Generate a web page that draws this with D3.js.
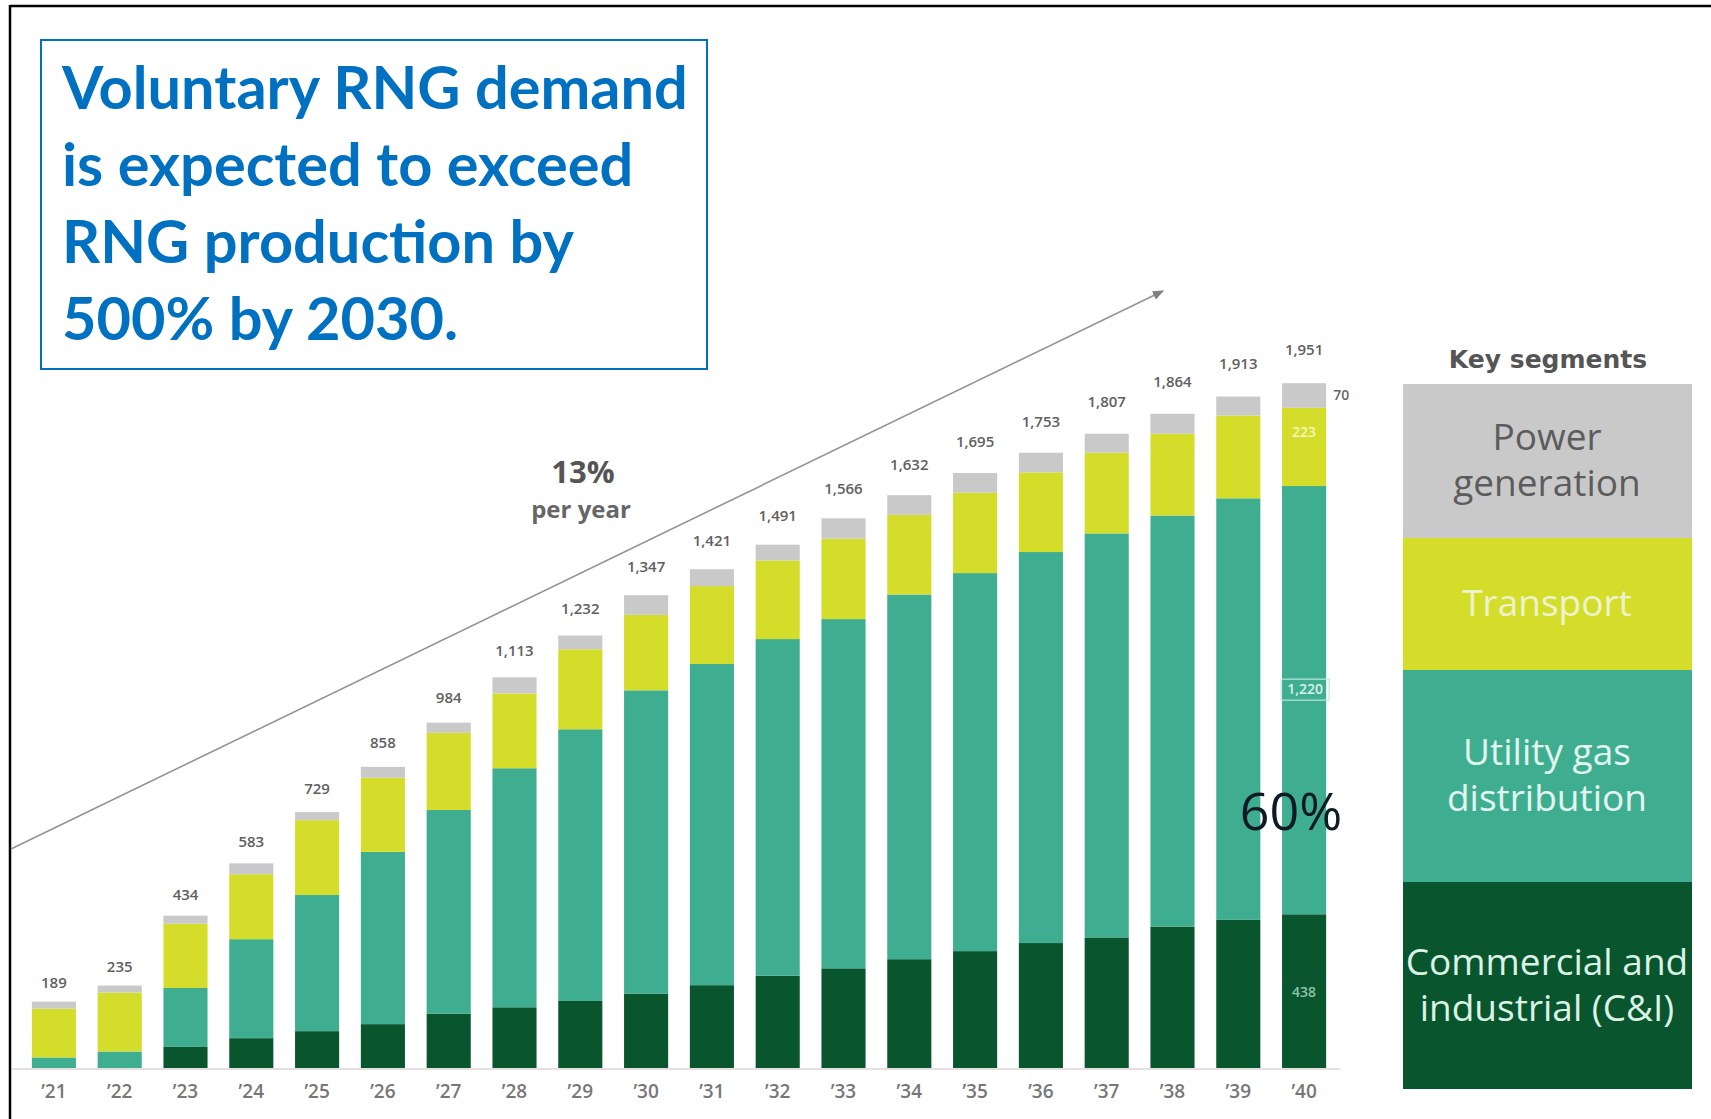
<!DOCTYPE html>
<html>
<head>
<meta charset="utf-8">
<script src="https://cdn.jsdelivr.net/npm/d3@7"></script>
<style>
  body { margin: 0; background: #fff; }
  svg { display: block; }
</style>
</head>
<body>
<div id="chart"></div>
<script>
// Years (x axis)
const years = ["’21", "’22", "’23", "’24", "’25", "’26", "’27", "’28", "’29", "’30",
               "’31", "’32", "’33", "’34", "’35", "’36", "’37", "’38", "’39", "’40"];

// Totals printed above the bars
const totals = [189, 235, 434, 583, 729, 858, 984, 1113, 1232, 1347,
                1421, 1491, 1566, 1632, 1695, 1753, 1807, 1864, 1913, 1951];

// Segments
const commercial = [0, 0, 60, 85, 105, 125, 155, 173, 191, 212,
                    236, 263, 284, 310, 333, 356, 372, 403, 422, 438];
const utility = [30, 47, 168, 282, 388, 491, 580, 681, 774, 864,
                 915, 959, 995, 1039, 1077, 1114, 1151, 1171, 1201, 1220];
const transport = [139, 168, 183, 185, 213, 211, 220, 213, 228, 215,
                   222, 224, 229, 227, 229, 227, 230, 233, 236, 223];
const power = [20, 20, 23, 31, 23, 31, 29, 46, 39, 56,
               48, 45, 58, 56, 56, 56, 54, 57, 54, 70];

const segmentKeys = ["commercial", "utility", "transport", "power"];
const segmentNames = {
    power: ["Power", "generation"],
    transport: ["Transport"],
    utility: ["Utility gas", "distribution"],
    commercial: ["Commercial and", "industrial (C&I)"]
};

const titleLines = ["Voluntary RNG demand", "is expected to exceed",
                    "RNG production by", "500% by 2030."];

// Colours
const color = d3.scaleOrdinal()
    .domain(segmentKeys)
    .range(["#08552e", "#3fae90", "#d5dd2b", "#c9c9c9"]);
const legendTextColor = { power: "#5c5c5c", transport: "#eef3cf", utility: "#e2f6ef", commercial: "#dcf2e6" };

// Table for d3.stack
const table = years.map((yr, i) => ({
    year: yr, total: totals[i],
    commercial: commercial[i], utility: utility[i], transport: transport[i], power: power[i]
}));

const W = 1711, H = 1119;
const svg = d3.select("#chart").append("svg")
    .attr("width", W).attr("height", H);

// Frame lines (top and left)
svg.append("line").attr("x1", 10).attr("x2", W).attr("y1", 6).attr("y2", 6)
    .attr("stroke", "#000").attr("stroke-width", 2.5);
svg.append("line").attr("x1", 10).attr("x2", 10).attr("y1", 5).attr("y2", H)
    .attr("stroke", "#000").attr("stroke-width", 2.5);

// Scales
const baseY = 1068;
const x = d3.scaleBand()
    .domain(years)
    .range([21, 1337])
    .paddingInner(0.33)
    .paddingOuter(0.165);
const y = d3.scaleLinear()
    .domain([0, 2000])
    .range([baseY, baseY - 2000 * 0.351]);

// Baseline
svg.append("line")
    .attr("x1", 12).attr("x2", 1340)
    .attr("y1", baseY + 1).attr("y2", baseY + 1)
    .attr("stroke", "#ddd4d4").attr("stroke-width", 1.5);

// Growth arrow
svg.append("defs").append("marker")
    .attr("id", "arrow")
    .attr("viewBox", "0 0 10 10")
    .attr("refX", 9).attr("refY", 5)
    .attr("markerWidth", 7).attr("markerHeight", 7)
    .attr("orient", "auto")
    .append("path").attr("d", "M0,1 L10,5 L0,9 z").attr("fill", "#808080");

svg.append("line")
    .attr("x1", 11).attr("y1", 849)
    .attr("x2", 1163).attr("y2", 291)
    .attr("stroke", "#939393").attr("stroke-width", 1.6)
    .attr("marker-end", "url(#arrow)");

svg.append("text")
    .attr("x", 583).attr("y", 483)
    .attr("text-anchor", "middle")
    .style("font-family", "'Open Sans', sans-serif")
    .style("font-weight", 700).style("font-size", "31px")
    .attr("fill", "#555")
    .text("13%");
svg.append("text")
    .attr("x", 581).attr("y", 518)
    .attr("text-anchor", "middle")
    .style("font-family", "'Open Sans', sans-serif")
    .style("font-weight", 700).style("font-size", "24px")
    .attr("fill", "#666")
    .text("per year");

// Stacked bars
const stacked = d3.stack().keys(segmentKeys)(table);

svg.append("g")
    .selectAll("g")
    .data(stacked)
    .join("g")
    .attr("fill", d => color(d.key))
    .selectAll("rect")
    .data(d => d)
    .join("rect")
    .attr("x", d => x(d.data.year))
    .attr("width", x.bandwidth())
    .attr("y", d => y(d[1]))
    .attr("height", d => y(d[0]) - y(d[1]));

// Totals above bars
svg.append("g")
    .selectAll("text")
    .data(table)
    .join("text")
    .attr("x", d => x(d.year) + x.bandwidth() / 2)
    .attr("y", d => y(d.total) - (12 + 0.023 * (baseY - y(d.total))))
    .attr("text-anchor", "middle")
    .style("font-family", "'Open Sans', sans-serif")
    .style("font-weight", 600).style("font-size", "15px")
    .attr("fill", "#606060")
    .text(d => d3.format(",")(d.total));

// X axis labels
const xAxis = svg.append("g")
    .attr("transform", `translate(0,${baseY})`)
    .call(d3.axisBottom(x).tickSize(0).tickPadding(17));
xAxis.select(".domain").remove();
xAxis.selectAll("text")
    .style("font-family", "'Open Sans', sans-serif")
    .style("font-weight", 600).style("font-size", "19px")
    .attr("fill", "#777");

// Segment values for the last bar
const last = table[table.length - 1];
const cx = x(last.year) + x.bandwidth() / 2;
const lastLayers = stacked.map(s => s[s.length - 1]);
const valueFont = sel => sel
    .style("font-family", "'Open Sans', sans-serif")
    .style("font-weight", 600).style("font-size", "14px");

svg.append("text")
    .attr("x", x(last.year) + x.bandwidth() + 7)
    .attr("y", (y(lastLayers[3][0]) + y(lastLayers[3][1])) / 2 + 5)
    .attr("fill", "#666").call(valueFont)
    .text(last.power);
svg.append("text")
    .attr("x", cx).attr("y", y(lastLayers[2][1]) + 29)
    .attr("text-anchor", "middle")
    .attr("fill", "#f3f6c0").call(valueFont)
    .text(last.transport);

const utilY = (y(lastLayers[1][0]) + y(lastLayers[1][1])) / 2 - 11;
svg.append("rect")
    .attr("x", cx - 23).attr("y", utilY - 10)
    .attr("width", 48).attr("height", 21)
    .attr("fill", "none").attr("stroke", "#bfe8da").attr("stroke-width", 1.2);
svg.append("text")
    .attr("x", cx + 1).attr("y", utilY + 5)
    .attr("text-anchor", "middle")
    .attr("fill", "#d9f3ea").call(valueFont)
    .text(d3.format(",")(last.utility));
svg.append("text")
    .attr("x", cx).attr("y", (y(lastLayers[0][0]) + y(lastLayers[0][1])) / 2 + 6)
    .attr("text-anchor", "middle")
    .attr("fill", "#8fc4a6").call(valueFont)
    .text(last.commercial);

svg.append("text")
    .attr("x", 1291).attr("y", 830)
    .attr("text-anchor", "middle")
    .style("font-family", "'Open Sans', sans-serif")
    .style("font-weight", 400).style("font-size", "52px")
    .attr("fill", "#0e1a26")
    .text("60%");

// Legend: Key segments
svg.append("text")
    .attr("x", 1548).attr("y", 368)
    .attr("text-anchor", "middle")
    .style("font-family", "'DejaVu Sans', sans-serif")
    .style("font-weight", 700).style("font-size", "25px")
    .attr("fill", "#555")
    .text("Key segments");

const legendOrder = ["power", "transport", "utility", "commercial"];
const legendEdges = [384, 538, 670, 882, 1089];
const legend = svg.append("g");
legendOrder.forEach((k, i) => {
    const y0 = legendEdges[i], y1 = legendEdges[i + 1];
    legend.append("rect")
        .attr("x", 1403).attr("y", y0)
        .attr("width", 289).attr("height", y1 - y0)
        .attr("fill", color(k));
    const lines = segmentNames[k];
    const mid = (y0 + y1) / 2;
    lines.forEach((t, j) => {
        legend.append("text")
            .attr("x", 1547)
            .attr("y", mid + (j - (lines.length - 1) / 2) * 46 + 12)
            .attr("text-anchor", "middle")
            .style("font-family", "'Open Sans', sans-serif")
            .style("font-size", "37px")
            .attr("fill", legendTextColor[k])
            .text(t);
    });
});

// Headline box
svg.append("rect")
    .attr("x", 41).attr("y", 40)
    .attr("width", 666).attr("height", 329)
    .attr("fill", "#fff")
    .attr("stroke", "#0070c0").attr("stroke-width", 2);

const headline = svg.append("g")
    .style("font-family", "Lato, sans-serif")
    .style("font-weight", 700).style("font-size", "59.5px")
    .attr("fill", "#0070c0");
titleLines.forEach((t, i) => {
    headline.append("text")
        .attr("x", 62).attr("y", 109 + i * 77)
        .text(t);
});
</script>
</body>
</html>
